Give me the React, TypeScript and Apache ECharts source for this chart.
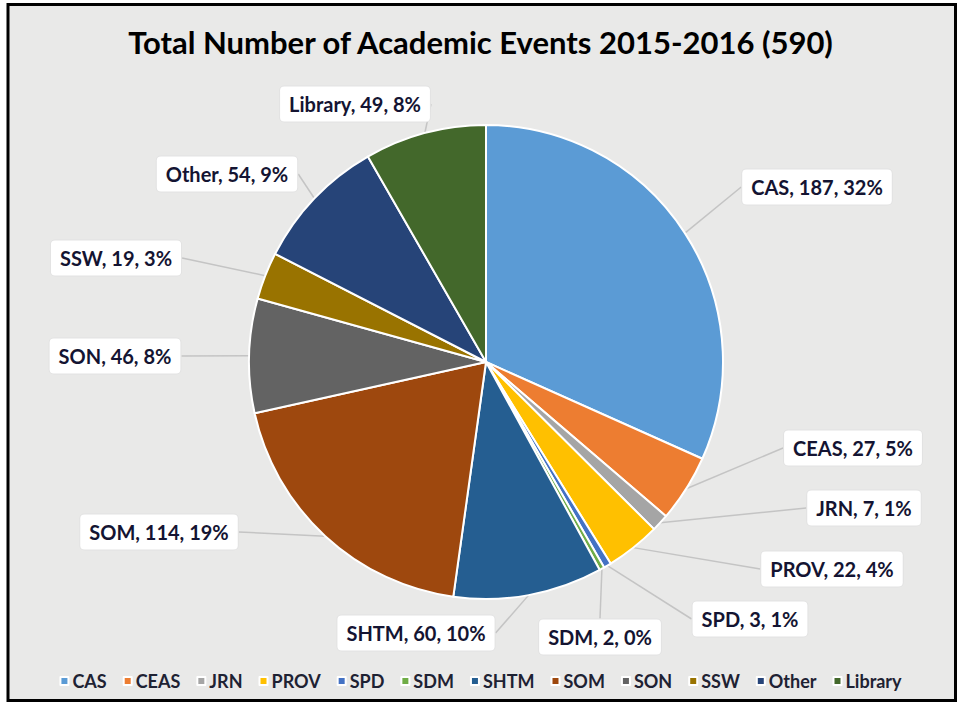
import React, { useEffect, useRef } from 'react';
import * as echarts from 'echarts';

const categories = ['CAS', 'CEAS', 'JRN', 'PROV', 'SPD', 'SDM', 'SHTM', 'SOM', 'SON', 'SSW', 'Other', 'Library'];
const values = [187, 27, 7, 22, 3, 2, 60, 114, 46, 19, 54, 49];
const colors = ['#5B9BD5', '#ED7D31', '#A5A5A5', '#FFC000', '#4472C4', '#70AD47', '#255E91', '#9E480E', '#636363', '#997300', '#264478', '#43682B'];
const titleText = 'Total Number of Academic Events 2015-2016 (590)';

// layout: centre of each label box (pixels), same order as categories
const labelCenters: [number, number][] = [
  [817, 187], [853, 448], [864, 508], [832, 569], [750, 619], [600, 637],
  [416, 633], [159, 532], [115, 356], [116, 258], [227, 174], [355, 104],
];

export default function App() {
  const ref = useRef<HTMLDivElement>(null);
  useEffect(() => {
    if (!ref.current) return;
    const chart = echarts.init(ref.current, null, { renderer: 'svg' });
    const total = values.reduce((a, b) => a + b, 0);
    const data = categories.map((name, i) => ({ name, value: values[i], itemStyle: { color: colors[i] } }));
    chart.setOption({
      animation: false,
      backgroundColor: '#ffffff',
      graphic: [
        {
          type: 'rect',
          z: -10,
          shape: { x: 8, y: 4.5, width: 947.5, height: 696 },
          style: { fill: '#e9e9e8', stroke: '#000000', lineWidth: 3 },
        },
      ],
      title: {
        text: titleText,
        left: 'center',
        top: 21,
        textStyle: { fontFamily: 'Lato', fontWeight: 'bold', fontSize: 31, color: '#000000' },
      },
      legend: {
        data: categories,
        bottom: 17,
        left: 'center',
        icon: 'rect',
        itemWidth: 8,
        itemHeight: 8,
        itemGap: 16,
        textStyle: { fontFamily: 'Lato', fontWeight: 'bold', fontSize: 18, color: '#1e2233', padding: [0, 0, 0, -1] },
      },
      series: [
        {
          type: 'pie',
          center: [486, 362],
          radius: 237,
          startAngle: 90,
          clockwise: true,
          avoidLabelOverlap: false,
          data,
          itemStyle: { borderColor: '#ffffff', borderWidth: 2 },
          label: {
            show: true,
            position: 'outside',
            formatter: (p: any) => `${p.name}, ${p.value}, ${Math.round((p.value / total) * 100)}%`,
            fontFamily: 'Lato',
            fontWeight: 'bold',
            fontSize: 20,
            lineHeight: 22,
            color: '#141432',
            backgroundColor: '#ffffff',
            borderColor: '#e2e2e2',
            borderWidth: 1,
            borderRadius: 4,
            padding: [7, 9, 6, 9],
          },
          labelLine: {
            show: true,
            length: 10,
            length2: 0,
            lineStyle: { color: '#c4c4c4', width: 1.5 },
          },
          labelLayout: (params: any) => {
            const p = labelCenters[params.dataIndex];
            return { x: p[0], y: p[1], align: 'center', verticalAlign: 'middle' };
          },
        },
      ],
    });
    return () => chart.dispose();
  }, []);
  return <div ref={ref} style={{ position: 'absolute', left: 0, top: 0, width: 961, height: 712 }} />;
}
